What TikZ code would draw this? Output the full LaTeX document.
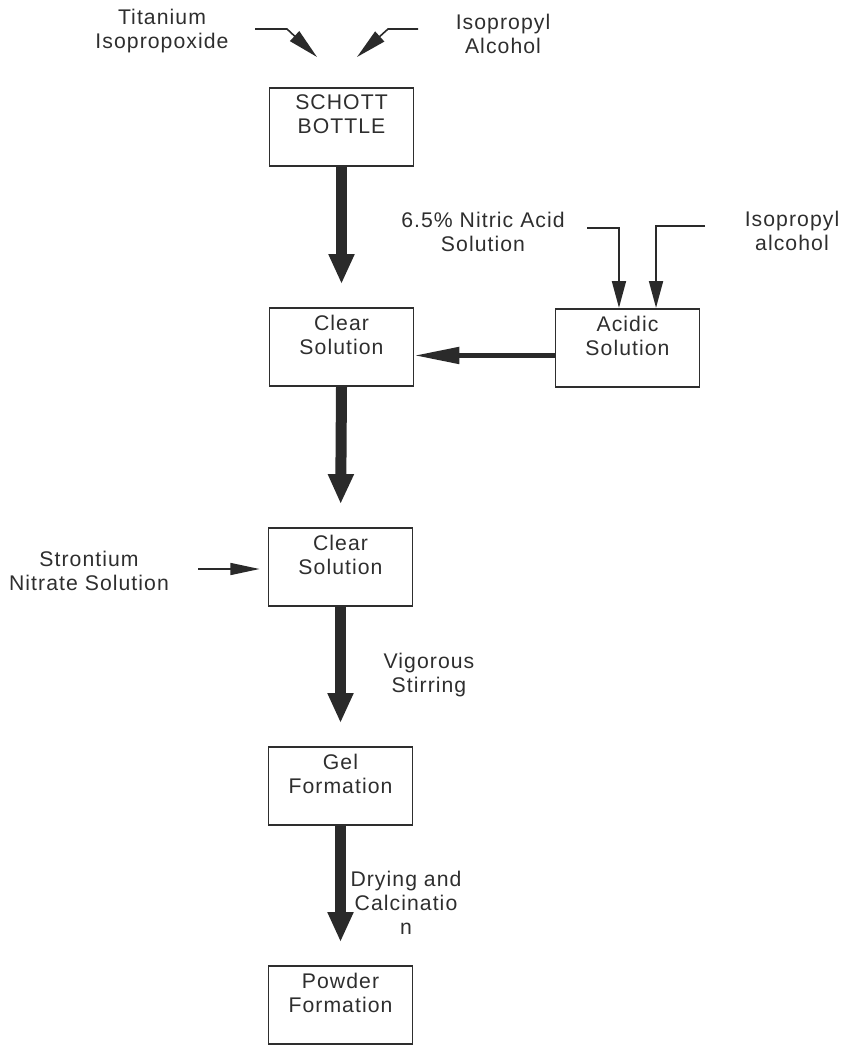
\documentclass[tikz,border=0pt]{standalone}
\usepackage{fontspec}
\setmainfont[LetterSpace=5]{Liberation Sans}
\usetikzlibrary{arrows.meta}
\definecolor{ink}{HTML}{2E2E2E}
\definecolor{arr}{HTML}{2A2A2A}
\begin{document}
\begin{tikzpicture}[x=0.75pt,y=-0.75pt,
  every node/.style={font=\fontsize{15.9pt}{18pt}\selectfont, text=ink},
  box/.style={draw=ink, line width=1.3pt, minimum width=108pt, minimum height=59pt, inner sep=0pt},
  boxtext/.style={anchor=north, align=center, inner sep=0pt, yshift=-6pt},
  lbl/.style={align=center, inner sep=0pt},
  bigarrow/.style={draw=arr, line width=8.25pt, -{Triangle[length=22.5pt,width=18pt]}, shorten >=17pt},
  sidearrow/.style={draw=arr, line width=3.75pt, -{Triangle[length=33.75pt,width=12pt]}},
  feedarrow/.style={draw=arr, line width=1.2pt, -{Triangle[length=20pt,width=10.5pt]}},
  slantarrow/.style={draw=arr, line width=1.2pt, -{Triangle[length=23pt,width=10pt]}},
  strarrow/.style={draw=arr, line width=1.2pt, -{Triangle[length=22pt,width=9pt]}, shorten >=6pt}
]
\useasboundingbox (0,0) rectangle (847,1047);

% boxes
\node[box] (sb) at (341.5,127) {};
\node[boxtext] (sbt) at (sb.north) {SCHOTT\\BOTTLE};
\node[box] (c1) at (341.5,347) {};
\node[boxtext] (c1t) at (c1.north) {Clear\\Solution};
\node[box] (ac) at (627.5,348) {};
\node[boxtext] (act) at (ac.north) {Acidic\\Solution};
\node[box] (c2) at (340.5,567) {};
\node[boxtext] (c2t) at (c2.north) {Clear\\Solution};
\node[box] (gel) at (340.5,786) {};
\node[boxtext] (gelt) at (gel.north) {Gel\\Formation};
\node[box] (pw) at (340.5,1005) {};
\node[boxtext] (pwt) at (pw.north) {Powder\\Formation};

% labels
\node[lbl] (ti) at (162,31.5) {Titanium\\Isopropoxide};
\node[lbl] (ipa) at (503,33.5) {Isopropyl\\Alcohol};
\node[lbl] (na) at (483,232) {6.5\% Nitric Acid\\Solution};
\node[lbl] (ipb) at (792,230.5) {Isopropyl\\alcohol};
\node[lbl] (sn) at (89,570.5) {Strontium\\Nitrate Solution};
\node[lbl] (vs) at (429,675.5) {Vigorous\\Stirring};
\node[lbl] (dc) at (406,902.5) {Drying and\\Calcinatio\\n};

% free ends
\coordinate (t0) at (255,29);
\coordinate (t1) at (287,29);
\coordinate (t2) at (317,57);
\coordinate (i0) at (418,29);
\coordinate (i1) at (388,29);
\coordinate (i2) at (357,57);
\coordinate (n0) at (587,228);
\coordinate (p0) at (705,226);
\coordinate (s0) at (198,569);

% connectors
\draw[slantarrow] (t0) -- (t1) -- (t2);
\draw[slantarrow] (i0) -- (i1) -- (i2);
\draw[feedarrow] (n0) -| ([xshift=-6.4pt]ac.north);
\draw[feedarrow] (p0) -| ([xshift=21.4pt]ac.north);
\draw[sidearrow] ([yshift=-5.6pt]ac.west) -- ([yshift=-5.6pt]ac.west -| c1.east);
\draw[strarrow] (s0) -- (s0 -| c2.west);
\draw[bigarrow] (sb.south) -- (c1.north);
\draw[bigarrow] (c1.south) -- (c2.north);
\draw[bigarrow] (c2.south) -- (gel.north);
\draw[bigarrow] (gel.south) -- (pw.north);
\end{tikzpicture}
\end{document}
